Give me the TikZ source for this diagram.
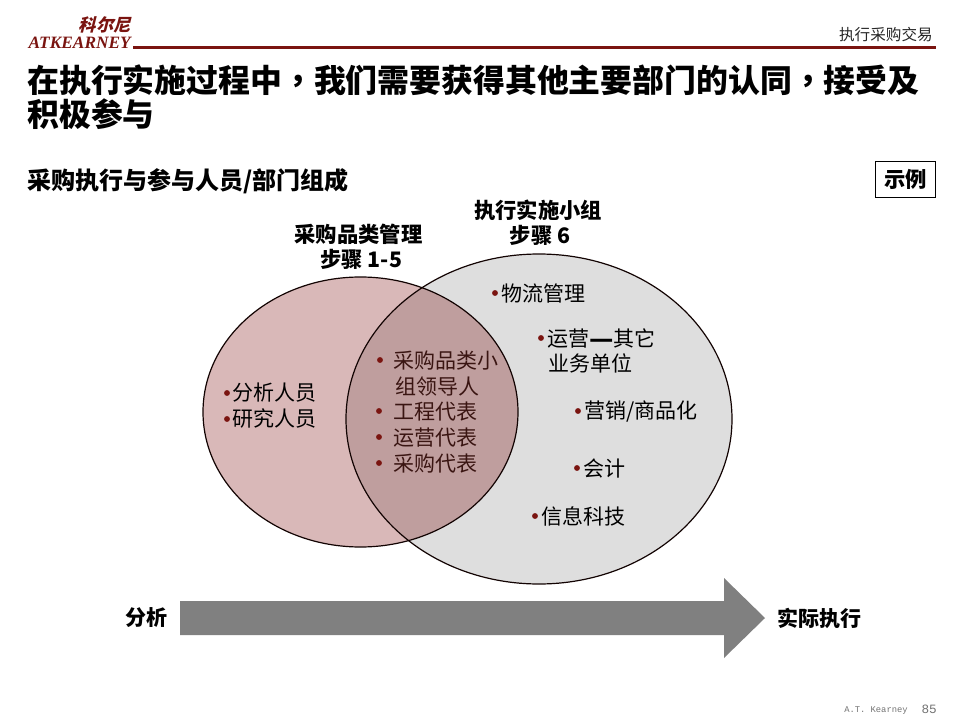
\documentclass[tikz,border=0pt]{standalone}
\usepackage{fontspec}
\setmainfont{Noto Sans CJK SC}
\newfontfamily\twfont{Noto Sans CJK TC}
\newfontfamily\logofont{Liberation Serif}
\newfontfamily\logocjk[FakeSlant=0.25]{Noto Sans CJK SC}
\newfontfamily\footfont{Liberation Mono}
\definecolor{brandred}{HTML}{7A1410}
\definecolor{leftfill}{HTML}{D9B8B8}
\definecolor{rightfill}{HTML}{DEDEDE}
\definecolor{overlapfill}{HTML}{BF9E9E}
\definecolor{arrowgray}{HTML}{808080}
\definecolor{overtext}{HTML}{3A1512}
\newcommand{\fs}[1]{\fontsize{#1}{#1}\selectfont}
\newcommand{\cnc}{{\twfont ，}}
\tikzset{
 txt/.style={inner sep=0pt,anchor=west,text=black},
 bodytext/.style={txt,font=\fs{15.75},yshift=-0.6pt},
 overtxt/.style={txt,font=\fs{15.75},text=overtext,yshift=-0.4pt},
 headtext/.style={inner sep=0pt,align=center,font=\fontsize{16}{19}\selectfont\bfseries,text=black},
 bulletdot/.style={circle,fill=brandred,inner sep=0pt,minimum size=4.4pt},
 venn/.style={draw=black!85!brandred,line width=0.9pt}
}
\begin{document}
\begin{tikzpicture}[x=0.75pt,y=-0.75pt]
\useasboundingbox (0,0) rectangle (960,720);
% header
\node[inner sep=0pt,anchor=east,text=brandred] (logocn) at (131,25) {\logocjk\fs{13}\bfseries 科尔尼};
\node[inner sep=0pt,anchor=east,text=brandred] (logoen) at (131,43) {\logofont\fs{13}\bfseries\itshape ATKEARNEY};
\fill[brandred] (133,46.5) rectangle (936,49.5);
\node[inner sep=0pt,anchor=east,font=\fs{11.7},text=black!85] (section) at (933,35) {执行采购交易};
% title
\node[txt,font=\fs{23.9}\bfseries] (title1) at (27,80) {在执行实施过程中\cnc 我们需要获得其他主要部门的认同\cnc 接受及};
\node[txt,font=\fs{23.9}\bfseries] (title2) at (27,114) {积极参与};
\node[txt,font=\fs{18}\bfseries] (subtitle) at (27,181) {采购执行与参与人员/部门组成};
\node[draw=black,line width=0.7pt,minimum width=45pt,minimum height=27pt,inner sep=0pt,font=\fs{16}\bfseries] (example) at (905.5,179.5) {\raisebox{1pt}{示例}};
% venn
\fill[leftfill] (360.5,412) ellipse [x radius=157.5,y radius=135];
\fill[rightfill] (539,419) ellipse [x radius=193,y radius=165];
\begin{scope}
\clip (360.5,412) ellipse [x radius=157.5,y radius=135];
\fill[overlapfill] (539,419) ellipse [x radius=193,y radius=165];
\end{scope}
\draw[venn] (360.5,412) ellipse [x radius=157.5,y radius=135];
\draw[venn] (539,419) ellipse [x radius=193,y radius=165];
% headings
\node[headtext] (headleft) at (358.5,247) {采购品类管理\\\hspace{4pt}步骤 1-5};
\node[headtext] (headright) at (538,223) {执行实施小组\\\hspace{3pt}步骤 6};
% left items
\node[bulletdot] (b1) at (227,393) {};
\node[bodytext] (t1) at (232,392) {分析人员};
\node[bulletdot] (b2) at (227,419) {};
\node[bodytext] (t2) at (232,418) {研究人员};
% overlap items
\node[bulletdot] (b3) at (380,360) {};
\node[overtxt] (t3) at (393,360) {采购品类小};
\node[overtxt] (t3b) at (395,386) {组领导人};
\node[bulletdot] (b4) at (379,411) {};
\node[overtxt] (t4) at (393,411) {工程代表};
\node[bulletdot] (b5) at (379,437) {};
\node[overtxt] (t5) at (393,437) {运营代表};
\node[bulletdot] (b6) at (379,463) {};
\node[overtxt] (t6) at (393,463) {采购代表};
% right items
\node[bulletdot] (b7) at (495,293) {};
\node[bodytext] (t7) at (501,293) {物流管理};
\node[bulletdot] (b8) at (541,338) {};
\node[bodytext] (t8) at (547,338) {运营\raisebox{-1.6pt}{\fs{20}\bfseries —}其它};
\node[bodytext] (t8b) at (548,363) {业务单位};
\node[bulletdot] (b9) at (578,411) {};
\node[bodytext] (t9) at (584,411) {营销/商品化};
\node[bulletdot] (b10) at (577,468) {};
\node[bodytext] (t10) at (583,468) {会计};
\node[bulletdot] (b11) at (535,516) {};
\node[bodytext] (t11) at (541,516) {信息科技};
% arrow
\fill[arrowgray] (180,601) -- (724,601) -- (724,578) -- (765,618) -- (724,658) -- (724,635) -- (180,635) -- cycle;
\node[txt,font=\fs{15.75}\bfseries] (from) at (125,618) {分析};
\node[txt,font=\fs{15.75}\bfseries] (to) at (777,618) {实际执行};
% footer
\node[inner sep=0pt,anchor=west,text=black!55,font=\footfont\fs{6.6}] (firm) at (844,711) {A.T. Kearney};
\node[inner sep=0pt,anchor=east,text=black!55,font=\footfont\fs{9.5}] (page) at (937,709) {85};
\end{tikzpicture}
\end{document}
